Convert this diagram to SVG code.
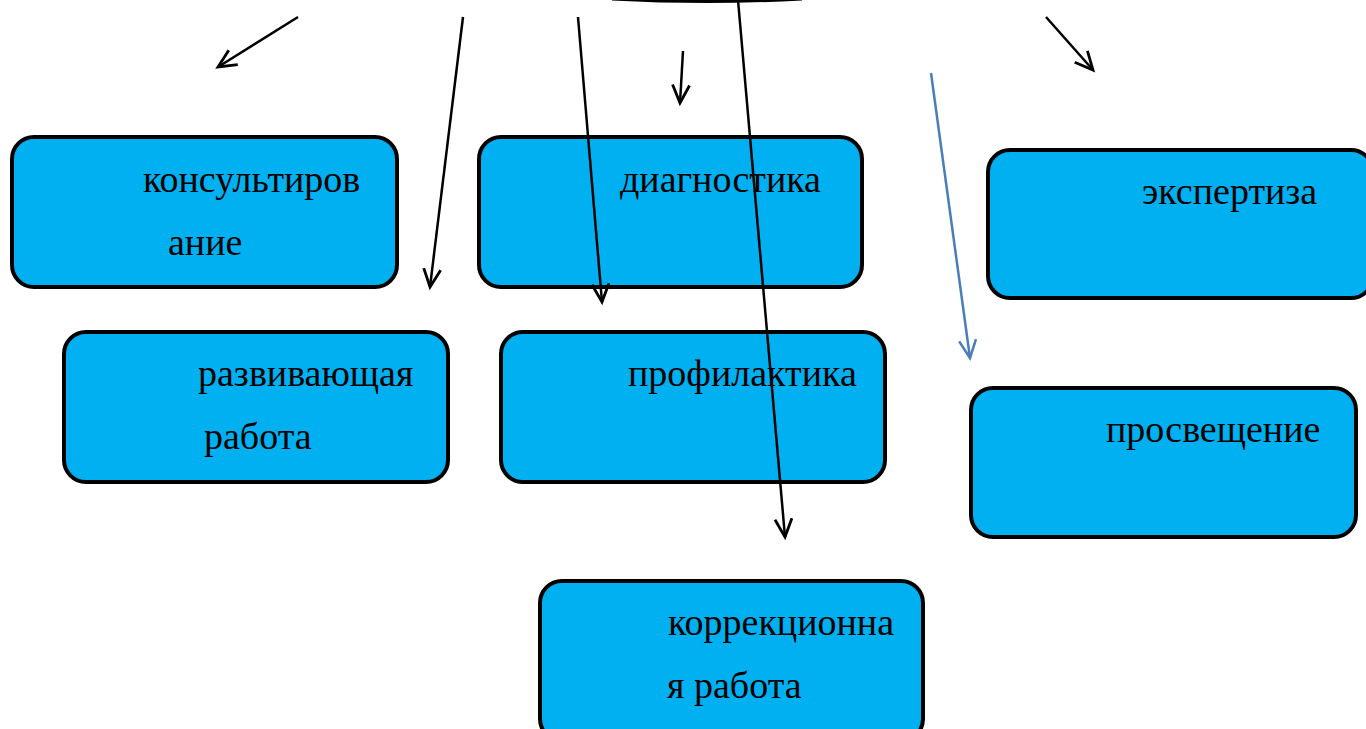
<svg xmlns="http://www.w3.org/2000/svg" width="1366" height="729" viewBox="0 0 1366 729">
<defs>
<style>
.box{fill:#00b0f0;stroke:#000;stroke-width:4}
.t{font-family:"Liberation Serif","Times New Roman",serif;font-size:38px;fill:#000}
.c{fill:none;stroke:#000;stroke-width:2.5}
.cb{fill:none;stroke:#4a7ebb;stroke-width:2.5}
</style>
<marker id="ah" markerUnits="userSpaceOnUse" markerWidth="30" markerHeight="30" refX="19" refY="10" orient="auto" viewBox="0 0 30 30">
<path d="M1,1.5 L19,10 L1,18.5" fill="none" stroke="#000" stroke-width="2.8"/>
</marker>
<marker id="ahb" markerUnits="userSpaceOnUse" markerWidth="30" markerHeight="30" refX="19" refY="10" orient="auto" viewBox="0 0 30 30">
<path d="M1,1.5 L19,10 L1,18.5" fill="none" stroke="#4a7ebb" stroke-width="2.5"/>
</marker>
</defs>
<rect width="1366" height="729" fill="#fff"/>
<g id="top">
<path d="M612,-1 Q707,4 802,-1" fill="#fff" stroke="#000" stroke-width="3"/>
</g>
<g id="n1"><rect class="box" x="12" y="137" width="385" height="150" rx="22"/>
<text class="t" x="143" y="192">консультиров</text><text class="t" x="168" y="255">ание</text></g>
<g id="n2"><rect class="box" x="479" y="137" width="383" height="150" rx="22"/>
<text class="t" x="620" y="192">диагностика</text></g>
<g id="n3"><rect class="box" x="988" y="150" width="385" height="148" rx="22"/>
<text class="t" x="1142" y="204">экспертиза</text></g>
<g id="n4"><rect class="box" x="64" y="332" width="384" height="150" rx="22"/>
<text class="t" x="198" y="386">развивающая</text><text class="t" x="204" y="449">работа</text></g>
<g id="n5"><rect class="box" x="501" y="332" width="384" height="150" rx="22"/>
<text class="t" x="628" y="386">профилактика</text></g>
<g id="n6"><rect class="box" x="971" y="388" width="385" height="149" rx="22"/>
<text class="t" x="1106" y="442">просвещение</text></g>
<g id="n7"><rect class="box" x="540" y="581" width="383" height="160" rx="22"/>
<text class="t" x="668" y="635">коррекционна</text><text class="t" x="667" y="698">я работа</text></g>
<g id="connectors">
<line class="c" x1="298" y1="17" x2="218" y2="67" marker-end="url(#ah)"/>
<line class="c" x1="463" y1="17" x2="430" y2="287" marker-end="url(#ah)"/>
<line class="c" x1="578" y1="17" x2="602" y2="302" marker-end="url(#ah)"/>
<line class="c" x1="683" y1="51" x2="680" y2="103" marker-end="url(#ah)"/>
<line class="c" x1="738" y1="0" x2="785" y2="537" marker-end="url(#ah)"/>
<line class="c" x1="1046" y1="17" x2="1093" y2="70" marker-end="url(#ah)"/>
<line class="cb" x1="931" y1="73" x2="970" y2="358" marker-end="url(#ahb)"/>
</g>
</svg>
